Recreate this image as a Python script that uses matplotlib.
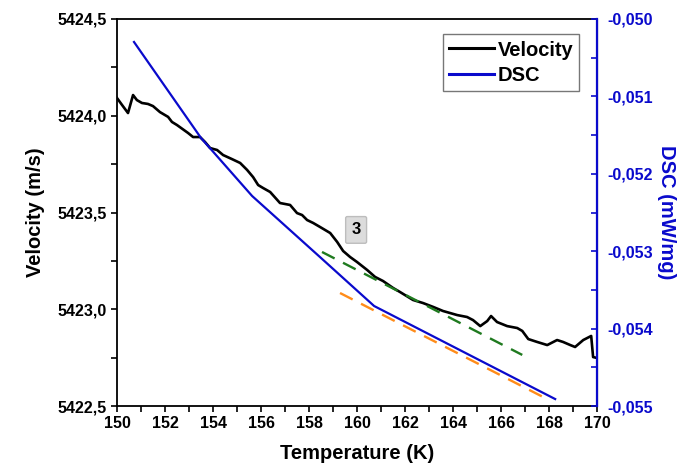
import matplotlib
matplotlib.use('Agg')

import matplotlib.pyplot as plt
import numpy as np
from matplotlib.ticker import MultipleLocator, FuncFormatter

plt.rcParams['font.family'] = ['Liberation Sans', 'DejaVu Sans']
plt.rcParams['font.weight'] = 'bold'

# --- Data ---
temp_vel = [150.00, 150.21, 150.46, 150.67, 150.83, 151.04, 151.29, 151.50, 151.79, 152.13,
            152.29, 152.50, 152.96, 153.17, 153.46, 153.67, 153.88, 154.17, 154.42, 154.79,
            155.13, 155.42, 155.67, 155.88, 156.08, 156.38, 156.79, 157.21, 157.50, 157.71,
            157.92, 158.17, 158.46, 158.88, 159.17, 159.42, 159.71, 160.00, 160.42, 160.75,
            161.08, 161.50, 161.79, 162.33, 162.75, 163.17, 163.58, 164.17, 164.58, 164.83,
            165.13, 165.42, 165.58, 165.83, 166.25, 166.67, 166.88, 167.13, 167.50, 167.92,
            168.33, 168.58, 168.88, 169.08, 169.42, 169.75, 169.83, 170.00]
velocity = [5424.092, 5424.056, 5424.014, 5424.107, 5424.081, 5424.066, 5424.061, 5424.050, 5424.019, 5423.994,
            5423.968, 5423.952, 5423.911, 5423.890, 5423.890, 5423.864, 5423.833, 5423.823, 5423.797, 5423.776,
            5423.756, 5423.720, 5423.683, 5423.642, 5423.627, 5423.606, 5423.549, 5423.539, 5423.497, 5423.487,
            5423.461, 5423.446, 5423.425, 5423.394, 5423.348, 5423.301, 5423.270, 5423.244, 5423.203, 5423.167,
            5423.146, 5423.110, 5423.089, 5423.048, 5423.032, 5423.012, 5422.991, 5422.970, 5422.960, 5422.944,
            5422.913, 5422.939, 5422.965, 5422.934, 5422.913, 5422.903, 5422.888, 5422.846, 5422.831, 5422.815,
            5422.841, 5422.831, 5422.815, 5422.805, 5422.841, 5422.862, 5422.753, 5422.748]

temp_dsc = [150.71, 153.50, 155.63, 158.50, 160.71, 168.25]
dsc = [-0.050297, -0.051537, -0.052287, -0.053088, -0.053708, -0.054910]

# linear fits (dashed)
fit_vel_t = [158.54, 166.88]
fit_vel_v = [5423.296, 5422.764]
fit_dsc_t = [159.29, 167.75]
fit_dsc_v = [-0.053540, -0.054884]

blue = '#0a0acc'

fig = plt.figure(figsize=(6.88, 4.69), dpi=100)
ax = fig.add_axes([0.170, 0.1343, 0.698, 0.8252])
ax2 = ax.twinx()

l1, = ax.plot(temp_vel, velocity, color='black', lw=1.9, label='Velocity')
ax.plot(fit_vel_t, fit_vel_v, color='#1f7a1f', lw=1.7, ls=(0, (6, 4)))
l2, = ax2.plot(temp_dsc, dsc, color=blue, lw=1.6, label='DSC')
ax2.plot(fit_dsc_t, fit_dsc_v, color='#ff8c1a', lw=1.7, ls=(0, (6, 4)))

ax.set_xlim(150, 170)
ax.set_ylim(5422.5, 5424.5)
ax2.set_ylim(-0.055, -0.050)

ax.xaxis.set_major_locator(MultipleLocator(2))
ax.xaxis.set_minor_locator(MultipleLocator(1))
ax.yaxis.set_major_locator(MultipleLocator(0.5))
ax.yaxis.set_minor_locator(MultipleLocator(0.25))
ax2.yaxis.set_major_locator(MultipleLocator(0.001))
ax2.yaxis.set_minor_locator(MultipleLocator(0.0005))

ax.yaxis.set_major_formatter(FuncFormatter(lambda v, p: f'{v:.1f}'.replace('.', ',')))
ax2.yaxis.set_major_formatter(FuncFormatter(lambda v, p: f'{v:.3f}'.replace('.', ',')))
ax.xaxis.set_major_formatter(FuncFormatter(lambda v, p: f'{v:.0f}'))

ax.tick_params(axis='both', which='both', direction='out', length=4, width=1.2,
               labelsize=11.5, top=False)
ax2.tick_params(axis='y', which='both', direction='in', length=4, width=1.2,
                colors=blue, labelsize=11.5, pad=7)
for lab in ax.get_xticklabels() + ax.get_yticklabels() + ax2.get_yticklabels():
    lab.set_fontweight('bold')

for s in ['left', 'bottom', 'top']:
    ax.spines[s].set_linewidth(1.3)
ax2.spines['right'].set_color(blue)
ax2.spines['right'].set_linewidth(1.6)
for s in ['left', 'bottom', 'top']:
    ax2.spines[s].set_visible(False)

ax.set_xlabel('Temperature (K)', fontsize=14.5, fontweight='bold', labelpad=9)
ax.set_ylabel('Velocity (m/s)', fontsize=14.5, fontweight='bold', labelpad=9)
ax2.set_ylabel('DSC (mW/mg)', fontsize=14.5, fontweight='bold', color=blue,
               rotation=-90, labelpad=17)

leg = ax.legend(handles=[l1, l2], loc='upper right', bbox_to_anchor=(0.963, 0.96),
                fontsize=14.5, frameon=True, fancybox=False, handlelength=2.2,
                handletextpad=0.2, borderpad=0.3, labelspacing=0.3, borderaxespad=0)
leg.get_frame().set_edgecolor('#555555')
leg.get_frame().set_linewidth(1.0)
for t in leg.get_texts():
    t.set_fontweight('bold')
for h in leg.get_lines():
    h.set_linewidth(2.2)

ax.text(159.96, 5423.41, '3', fontsize=12, fontweight='bold', ha='center', va='center',
        bbox=dict(boxstyle='round,pad=0.35,rounding_size=0.1', facecolor='#dcdcdc', edgecolor='#bdbdbd'))

plt.savefig('out.png', dpi=100)
